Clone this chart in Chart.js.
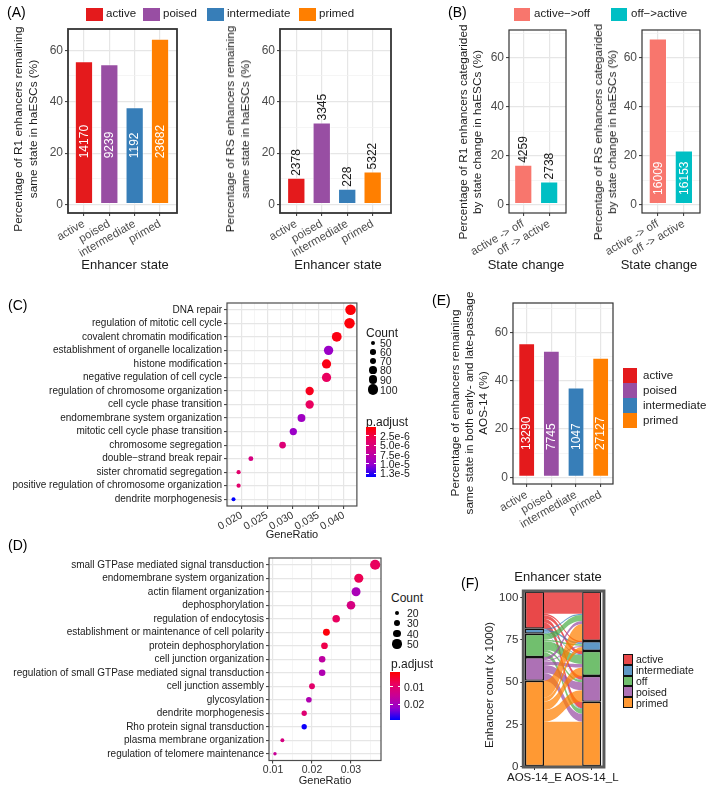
<!DOCTYPE html>
<html>
<head>
<meta charset="utf-8">
<title>Enhancer state figure</title>
<script src="https://cdn.jsdelivr.net/npm/chart.js@4.4.1/dist/chart.umd.min.js"></script>
<style>
  body { margin: 0; background: #fff; font-family: 'Liberation Sans', Arial, sans-serif; }
  #page { position: relative; width: 709px; height: 790px; overflow: hidden; }
  canvas { position: absolute; }
  .lbl { position: absolute; white-space: nowrap; line-height: 1; color: #1a1a1a; transform: translateY(-50%); }
  .ttl { position: absolute; white-space: nowrap; color: #1a1a1a; text-align: center; }
  .box { position: absolute; box-sizing: border-box; }
</style>
</head>
<body>
<div id="page"></div>
<script>
// ---------- data ----------
const stateCats = ['active', 'poised', 'intermediate', 'primed'];
const stateColors = ['#E41A1C', '#984EA3', '#377EB8', '#FF7F00'];

// (A) R1 / RS enhancers remaining same state
const r1Pct = [55.7, 54.6, 37.8, 64.5];
const r1Counts = ['14170', '9239', '1192', '23682'];
const rsPct = [10.4, 31.9, 6.2, 12.9];
const rsCounts = ['2378', '3345', '228', '5322'];

// (B) state change
const changeCats = ['active -> off', 'off -> active'];
const changeKeys = ['active\u2212>off', 'off\u2212>active'];
const changeColors = ['#F8766D', '#00BFC4'];
const r1ChangePct = [16.3, 9.5];
const r1ChangeCounts = ['4259', '2738'];
const rsChangePct = [67.9, 22.1];
const rsChangeCounts = ['16009', '16153'];

// (E) AOS-14 early vs late passage
const aosPct = [55.4, 52.4, 37.1, 49.5];
const aosCounts = ['13290', '7745', '1047', '27127'];

const pctTicks = [0, 20, 40, 60];

// (C) GO terms
const goTermsC = ['DNA repair', 'regulation of mitotic cell cycle', 'covalent chromatin modification',
  'establishment of organelle localization', 'histone modification', 'negative regulation of cell cycle',
  'regulation of chromosome organization', 'cell cycle phase transition', 'endomembrane system organization',
  'mitotic cell cycle phase transition', 'chromosome segregation', 'double\u2212strand break repair',
  'sister chromatid segregation', 'positive regulation of chromosome organization', 'dendrite morphogenesis'];
const goRatioC = [0.0413, 0.0411, 0.0386, 0.0370, 0.0366, 0.0366, 0.0333, 0.0333, 0.0317, 0.0301, 0.0280, 0.0218, 0.0194, 0.0194, 0.0184];
const goCountC = [105, 104, 98, 94, 93, 93, 85, 85, 81, 76, 71, 55, 49, 49, 47];
const goPadjC = [4e-7, 5e-7, 8e-7, 9.8e-6, 9e-7, 3.5e-6, 1.2e-6, 3.5e-6, 9.5e-6, 9.8e-6, 4.8e-6, 5.5e-6, 4.2e-6, 4.2e-6, 1.35e-5];
const ratioTicksC = [0.020, 0.025, 0.030, 0.035, 0.040];
const countKeyC = [50, 60, 70, 80, 90, 100];
const padjKeyC = [2.5e-6, 5.0e-6, 7.5e-6, 1.0e-5, 1.25e-5];
const padjKeyLabelsC = ['2.5e-6', '5.0e-6', '7.5e-6', '1.0e-5', '1.3e-5'];

// (D) GO terms
const goTermsD = ['small GTPase mediated signal transduction', 'endomembrane system organization',
  'actin filament organization', 'dephosphorylation', 'regulation of endocytosis',
  'establishment or maintenance of cell polarity', 'protein dephosphorylation', 'cell junction organization',
  'regulation of small GTPase mediated signal transduction', 'cell junction assembly', 'glycosylation',
  'dendrite morphogenesis', 'Rho protein signal transduction', 'plasma membrane organization',
  'regulation of telomere maintenance'];
const goRatioD = [0.0362, 0.0320, 0.0313, 0.0300, 0.0262, 0.0237, 0.0232, 0.0226, 0.0226, 0.0200, 0.0192, 0.0180, 0.0180, 0.0124, 0.0105];
const goCountD = [55, 49, 48, 46, 40, 36, 35, 34, 34, 30, 29, 27, 27, 19, 16];
const goPadjD = [0.0083, 0.0074, 0.0195, 0.0125, 0.0083, 0.0020, 0.0068, 0.0167, 0.0187, 0.0097, 0.0187, 0.0105, 0.0288, 0.0125, 0.0153];
const ratioTicksD = [0.01, 0.02, 0.03];
const countKeyD = [20, 30, 40, 50];
const padjKeyD = [0.01, 0.02];
const padjKeyLabelsD = ['0.01', '0.02'];

// (F) alluvial flows, AOS-14_E state -> AOS-14_L state (x 1000 enhancers)
const flowStates = ['active', 'intermediate', 'off', 'poised', 'primed'];
const flowColors = ['#E41A1C', '#377EB8', '#4DAF4A', '#984EA3', '#FF7F00'];
const fromActive = [13.2, 0.9, 2.0, 2.2, 3.7];
const fromIntermediate = [0.7, 1.0, 0.5, 0.3, 0.5];
const fromOff = [3.5, 1.0, 5.2, 1.2, 2.9];
const fromPoised = [1.9, 0.7, 2.1, 4.7, 4.7];
const fromPrimed = [10.0, 2.3, 5.0, 6.9, 26.6];
const passageCats = ['AOS-14_E', 'AOS-14_L'];
const countTicks = [0, 25, 50, 75, 100];

// ---------- helpers ----------
const FAMILY = "'Liberation Sans', Arial, sans-serif";
const page = document.getElementById('page');

function makeCanvas(area, yW, xH, padT, padR) {
  const [l, t, r, b] = area;
  const cv = document.createElement('canvas');
  const w = Math.round(yW + (r - l) + padR), h = Math.round(padT + (b - t) + xH);
  cv.width = w; cv.height = h;
  cv.style.left = (l - yW) + 'px';
  cv.style.top = (t - padT) + 'px';
  cv.style.width = w + 'px';
  cv.style.height = h + 'px';
  page.appendChild(cv);
  return cv;
}

function addText(text, x, y, size, extra) {
  const d = document.createElement('div');
  d.className = 'lbl';
  d.textContent = text;
  d.style.left = x + 'px';
  d.style.top = y + 'px';
  d.style.fontSize = size + 'px';
  Object.assign(d.style, extra || {});
  page.appendChild(d);
}

// axis title centred on (cx, cy); rotated titles read bottom to top
function addTitle(lines, cx, cy, size, rotated, lh) {
  const d = document.createElement('div');
  d.className = 'ttl';
  [].concat(lines).forEach(line => {
    const l = document.createElement('div');
    l.textContent = line;
    d.appendChild(l);
  });
  d.style.left = cx + 'px';
  d.style.top = cy + 'px';
  d.style.fontSize = size + 'px';
  d.style.lineHeight = (lh || size * 1.2) + 'px';
  d.style.transform = 'translate(-50%, -50%)' + (rotated ? ' rotate(-90deg)' : '');
  page.appendChild(d);
}

function addBox(x, y, w, h, style) {
  const d = document.createElement('div');
  d.className = 'box';
  Object.assign(d.style, { left: x + 'px', top: y + 'px', width: w + 'px', height: h + 'px' }, style);
  page.appendChild(d);
}

function rgba(hex, a) {
  const n = parseInt(hex.slice(1), 16);
  return `rgba(${n >> 16}, ${(n >> 8) & 255}, ${n & 255}, ${a})`;
}

const sum = arr => arr.reduce((s, v) => s + v, 0);

// major ticks plus the minor lines half way between them
function withMinor(major, min, max) {
  const half = (major[1] - major[0]) / 2;
  const out = [];
  for (let v = major[0] - half; v <= max + 1e-9; v += half) {
    if (v >= min - 1e-9) out.push(+v.toFixed(6));
  }
  return out;
}
const isMajor = (v, major) => major.some(m => Math.abs(m - v) < 1e-7);

function gridStyle(major) {
  return {
    offset: false,
    color: ctx => isMajor(ctx.tick.value, major) ? '#E6E6E6' : '#F1F1F1',
    lineWidth: ctx => isMajor(ctx.tick.value, major) ? 1.2 : 0.7,
    tickColor: ctx => isMajor(ctx.tick.value, major) ? '#333' : 'rgba(0,0,0,0)',
    tickWidth: 1,
    tickLength: 3
  };
}

// p.adjust colour ramp, red (low) to blue (high)
const padjStops = [[255, 0, 0], [233, 0, 95], [200, 0, 150], [150, 0, 205], [0, 0, 255]];
function padjColor(t) {
  t = Math.min(1, Math.max(0, t));
  const s = t * (padjStops.length - 1);
  const i = Math.min(Math.floor(s), padjStops.length - 2), f = s - i;
  const c = padjStops[i].map((v, k) => Math.round(v + (padjStops[i + 1][k] - v) * f));
  return `rgb(${c.join(',')})`;
}
const padjGradient = 'linear-gradient(to bottom, ' + padjStops.map(c => `rgb(${c.join(',')})`).join(', ') + ')';

// ---------- plugins ----------
function frame(color, width) {
  return {
    id: 'frame',
    afterDatasetsDraw(chart) {
      const { ctx, chartArea: a } = chart;
      ctx.save();
      ctx.strokeStyle = color;
      ctx.lineWidth = width;
      ctx.strokeRect(a.left, a.top, a.right - a.left, a.bottom - a.top);
      ctx.restore();
    }
  };
}

function barText(labels, inside, start) {
  return {
    id: 'barText',
    afterDatasetsDraw(chart) {
      const { ctx } = chart;
      const yScale = chart.scales.y;
      ctx.save();
      ctx.font = '12px ' + FAMILY;
      ctx.textAlign = 'left';
      ctx.textBaseline = 'middle';
      ctx.fillStyle = inside ? '#ffffff' : '#1a1a1a';
      chart.getDatasetMeta(0).data.forEach((bar, i) => {
        const y = inside ? yScale.getPixelForValue(start) : bar.y - 2;
        ctx.save();
        ctx.translate(bar.x, y);
        ctx.rotate(-Math.PI / 2);
        ctx.fillText(labels[i], 0, 0.5);
        ctx.restore();
      });
      ctx.restore();
    }
  };
}

// ---------- bar panels (A, B, E) ----------
function barPanel(o) {
  const cv = makeCanvas(o.area, o.yW, o.xH, o.padT, o.padR);
  new Chart(cv, {
    type: 'bar',
    data: {
      datasets: [{
        data: o.cats.map((c, i) => ({ x: i + 1, y: o.vals[i] })),
        backgroundColor: o.colors,
        borderColor: 'rgba(255,255,255,0.5)',
        borderWidth: 1,
        borderSkipped: false,
        barPercentage: 0.9,
        categoryPercentage: o.catPct
      }]
    },
    options: {
      responsive: false,
      animation: false,
      layout: { padding: { top: o.padT, right: o.padR, left: 0, bottom: 0 } },
      plugins: { legend: { display: false }, tooltip: { enabled: false } },
      scales: {
        x: {
          type: 'linear', min: o.xMin, max: o.xMax, offset: false,
          afterBuildTicks: s => { s.ticks = o.cats.map((c, i) => ({ value: i + 1 })); },
          afterFit: s => { s.height = o.xH; },
          grid: { offset: false, color: '#E6E6E6', lineWidth: 1.2, tickColor: '#333', tickWidth: 1, tickLength: 3 },
          border: { display: false },
          ticks: {
            autoSkip: false, minRotation: 30, maxRotation: 30, padding: 1,
            color: '#4D4D4D', font: { size: 11.5, family: FAMILY },
            callback: v => o.cats[v - 1]
          }
        },
        y: {
          min: o.yMin, max: o.yMax,
          afterBuildTicks: s => { s.ticks = withMinor(pctTicks, o.yMin, o.yMax).map(v => ({ value: v })); },
          afterFit: s => { s.width = o.yW; },
          grid: gridStyle(pctTicks),
          border: { display: false },
          ticks: {
            autoSkip: false, padding: 2, color: '#4D4D4D', font: { size: 12, family: FAMILY },
            callback: v => isMajor(v, pctTicks) ? String(v) : ''
          }
        }
      }
    },
    plugins: [frame('#333', o.frameW), barText(o.labels, o.inside, o.start)]
  });
  addTitle(o.yTitle, o.yTitleAt[0], o.yTitleAt[1], 11.8, true, o.yLH);
  addTitle(o.xTitle, o.xTitleAt[0], o.xTitleAt[1], 13, false);
}

barPanel({
  area: [68, 29, 177, 213], yW: 68, xH: 62, padT: 12, padR: 8,
  cats: stateCats, vals: r1Pct, colors: stateColors, labels: r1Counts, inside: true, start: 18,
  xMin: 0.37, xMax: 4.67, yMin: -3.25, yMax: 68.25, catPct: 0.8,
  yTitle: ['Percentage of R1 enhancers remaining', 'same state in haESCs (%)'], yLH: 15, yTitleAt: [25.8, 129],
  xTitle: 'Enhancer state', xTitleAt: [125, 265], frameW: 1.8
});

barPanel({
  area: [280, 29, 391, 213], yW: 72, xH: 62, padT: 12, padR: 8,
  cats: stateCats, vals: rsPct, colors: stateColors, labels: rsCounts, inside: false,
  xMin: 0.36, xMax: 4.72, yMin: -3.25, yMax: 68.25, catPct: 0.8,
  yTitle: ['Percentage of RS enhancers remaining', 'same state in haESCs (%)'], yLH: 15, yTitleAt: [237.5, 129],
  xTitle: 'Enhancer state', xTitleAt: [338, 265], frameW: 1.8
});

barPanel({
  area: [509, 30, 566, 213], yW: 64, xH: 62, padT: 12, padR: 8,
  cats: changeCats, vals: r1ChangePct, colors: changeColors, labels: r1ChangeCounts, inside: false,
  xMin: 0.45, xMax: 2.65, yMin: -3.4, yMax: 71.4, catPct: 0.78,
  yTitle: ['Percentage of R1 enhancers categarided', 'by state change in haESCs (%)'], yLH: 14, yTitleAt: [470.3, 132],
  xTitle: 'State change', xTitleAt: [526, 265], frameW: 1.2
});

barPanel({
  area: [642, 30, 700, 213], yW: 60, xH: 62, padT: 12, padR: 8,
  cats: changeCats, vals: rsChangePct, colors: changeColors, labels: rsChangeCounts, inside: true, start: 4,
  xMin: 0.39, xMax: 2.62, yMin: -3.4, yMax: 71.4, catPct: 0.78,
  yTitle: ['Percentage of RS enhancers categarided', 'by state change in haESCs (%)'], yLH: 14, yTitleAt: [605, 132],
  xTitle: 'State change', xTitleAt: [659, 265], frameW: 1.2
});

barPanel({
  area: [513, 303, 613, 484], yW: 73, xH: 103, padT: 12, padR: 6,
  cats: stateCats, vals: aosPct, colors: stateColors, labels: aosCounts, inside: true, start: 11.3,
  xMin: 0.445, xMax: 4.5, yMin: -2.77, yMax: 72.1, catPct: 0.755,
  yTitle: ['Percentage of enhancers remaining', 'same state in both early- and late-passage', 'AOS-14 (%)'], yLH: 14, yTitleAt: [469, 403],
  xTitle: 'Enhancer state', xTitleAt: [558, 577], frameW: 1.2
});

// ---------- dot panels (C, D) ----------
function dotPanel(o) {
  const cv = makeCanvas(o.area, o.yW, o.xH, o.padT, o.padR);
  new Chart(cv, {
    type: 'bubble',
    data: {
      datasets: [{
        data: o.terms.map((t, i) => ({ x: o.ratio[i], y: t, r: o.size(o.count[i]) })),
        backgroundColor: o.padj.map(p => padjColor((p - o.pMin) / (o.pMax - o.pMin))),
        borderWidth: 0,
        hoverRadius: 0
      }]
    },
    options: {
      responsive: false,
      animation: false,
      layout: { padding: { top: o.padT, right: o.padR, left: 0, bottom: 0 } },
      plugins: { legend: { display: false }, tooltip: { enabled: false } },
      scales: {
        x: {
          type: 'linear', min: o.xMin, max: o.xMax,
          afterBuildTicks: s => { s.ticks = withMinor(o.ticks, o.xMin, o.xMax).map(v => ({ value: v })); },
          afterFit: s => { s.height = o.xH; },
          grid: gridStyle(o.ticks),
          border: { display: false },
          ticks: {
            autoSkip: false, minRotation: o.rot, maxRotation: o.rot, padding: 0,
            color: '#333', font: { size: 10.5, family: FAMILY },
            callback: v => isMajor(v, o.ticks) ? v.toFixed(o.digits) : ''
          },
          title: { display: true, text: 'GeneRatio', color: '#1a1a1a', font: { size: 11, family: FAMILY, lineHeight: 1.15 }, padding: { top: 0, bottom: o.titlePad } }
        },
        y: {
          type: 'category', labels: o.terms, offset: true,
          afterFit: s => { s.width = o.yW; },
          grid: { offset: false, color: '#E6E6E6', lineWidth: 1.2, tickColor: '#333', tickWidth: 1, tickLength: 3 },
          border: { display: false },
          ticks: { autoSkip: false, padding: 2, color: '#1a1a1a', font: { size: 10, family: FAMILY } }
        }
      }
    },
    plugins: [frame('#4d4d4d', 1.2)]
  });
}

const sizeC = c => 2 + (c - 47) * (3.3 / 58);
const sizeD = c => 1.7 + (c - 16) * (3.4 / 39);
const pRangeC = [1.5e-7, 1.35e-5];
const pRangeD = [0.0012, 0.0294];

dotPanel({
  area: [227, 303, 357, 505.5], yW: 227, xH: 35, padT: 12, padR: 6,
  terms: goTermsC, ratio: goRatioC, count: goCountC, padj: goPadjC, size: sizeC,
  pMin: pRangeC[0], pMax: pRangeC[1], xMin: 0.01713, xMax: 0.04254, ticks: ratioTicksC,
  rot: 30, digits: 3, titlePad: 0
});

dotPanel({
  area: [269, 558, 381, 760.5], yW: 269, xH: 29.5, padT: 10, padR: 6,
  terms: goTermsD, ratio: goRatioD, count: goCountD, padj: goPadjD, size: sizeD,
  pMin: pRangeD[0], pMax: pRangeD[1], xMin: 0.00897, xMax: 0.0377, ticks: ratioTicksD,
  rot: 0, digits: 2, titlePad: 3
});

// ---------- alluvial panel (F) ----------
const flowMatrix = [fromActive, fromIntermediate, fromOff, fromPoised, fromPrimed];
const earlyTotals = flowMatrix.map(sum);
const lateTotals = flowStates.map((s, j) => sum(flowMatrix.map(row => row[j])));
const flowTotal = sum(earlyTotals);
const stratumWidth = 1 / 3;

const alluvium = {
  id: 'alluvium',
  beforeDatasetsDraw(chart) {
    const { ctx, scales: { x, y } } = chart;
    const x0 = x.getPixelForValue(1 + stratumWidth / 2);
    const x1 = x.getPixelForValue(2 - stratumWidth / 2);
    const xm = (x0 + x1) / 2;
    ctx.save();
    flowMatrix.forEach((row, i) => {
      row.forEach((f, j) => {
        const eTop = flowTotal - sum(earlyTotals.slice(0, i)) - sum(row.slice(0, j));
        const lTop = flowTotal - sum(lateTotals.slice(0, j)) - sum(flowMatrix.slice(0, i).map(r => r[j]));
        const ya = y.getPixelForValue(eTop), yb = y.getPixelForValue(lTop);
        const yc = y.getPixelForValue(lTop - f), yd = y.getPixelForValue(eTop - f);
        ctx.beginPath();
        ctx.moveTo(x0, ya);
        ctx.bezierCurveTo(xm, ya, xm, yb, x1, yb);
        ctx.lineTo(x1, yc);
        ctx.bezierCurveTo(xm, yc, xm, yd, x0, yd);
        ctx.closePath();
        ctx.fillStyle = rgba(flowColors[i], 0.72);
        ctx.fill();
      });
    });
    ctx.restore();
  }
};

(function () {
  const area = [523.3, 590.7, 616.7, 767], yW = 47.3, xH = 23, padT = 10, padR = 3;
  const cv = makeCanvas(area, yW, xH, padT, padR);
  // stacked bottom-up: primed, poised, off, intermediate, active
  const order = flowStates.map((s, k) => k).reverse();
  new Chart(cv, {
    type: 'bar',
    data: {
      datasets: order.map(k => ({
        label: flowStates[k],
        data: [{ x: 1, y: earlyTotals[k] }, { x: 2, y: lateTotals[k] }],
        backgroundColor: rgba(flowColors[k], 0.8),
        borderColor: '#111',
        borderWidth: 1.4,
        borderSkipped: false,
        barPercentage: 1,
        categoryPercentage: stratumWidth
      }))
    },
    options: {
      responsive: false,
      animation: false,
      layout: { padding: { top: padT, right: padR, left: 0, bottom: 0 } },
      plugins: { legend: { display: false }, tooltip: { enabled: false } },
      scales: {
        x: {
          type: 'linear', min: 0.805, max: 2.214, stacked: true, offset: false,
          afterBuildTicks: s => { s.ticks = passageCats.map((c, i) => ({ value: i + 1 })); },
          afterFit: s => { s.height = xH; },
          grid: { offset: false, drawOnChartArea: false, tickColor: '#333', tickLength: 3 },
          border: { display: false },
          ticks: { autoSkip: false, maxRotation: 0, minRotation: 0, padding: 1, color: '#1a1a1a', font: { size: 11.5, family: FAMILY }, callback: v => passageCats[v - 1] }
        },
        y: {
          stacked: true, min: -0.2, max: 104,
          afterBuildTicks: s => { s.ticks = countTicks.map(v => ({ value: v })); },
          afterFit: s => { s.width = yW; },
          grid: { drawOnChartArea: false, tickColor: '#333', tickLength: 3 },
          border: { display: false },
          ticks: { autoSkip: false, padding: 2, color: '#333', font: { size: 11.5, family: FAMILY } }
        }
      }
    },
    plugins: [alluvium, frame('#5a5a5a', 3)]
  });
  addTitle('Enhancer count (x 1000)', 490, 685, 11.5, true);
})();

// ---------- panel letters ----------
[['(A)', 7, 12], ['(B)', 448, 12], ['(C)', 8, 305], ['(D)', 8, 545], ['(E)', 432, 300], ['(F)', 461, 583]]
  .forEach(([t, x, y]) => addText(t, x, y, 14, { color: '#000' }));

// ---------- legends ----------
// (A)
const keyAx = [86, 143, 207, 299];
stateCats.forEach((c, i) => {
  addBox(keyAx[i], 7.5, 17, 13.5, { background: stateColors[i] });
  addText(c, keyAx[i] + 20, 14, 11.5);
});
// (B)
const keyBx = [514, 611];
changeKeys.forEach((c, i) => {
  addBox(keyBx[i], 8, 15.5, 12.5, { background: changeColors[i] });
  addText(c, keyBx[i] + 20, 14, 11.5);
});
// (E)
stateCats.forEach((c, i) => {
  addBox(623, 368 + i * 15, 14, 15, { background: stateColors[i] });
  addText(c, 643, 375.5 + i * 15, 11.5);
});
// (F)
flowStates.forEach((c, i) => {
  addBox(622.7, 654 + i * 10.8, 10.8, 10.8, { background: rgba(flowColors[i], 0.8), border: '1.5px solid #111' });
  addText(c, 636, 659.4 + i * 10.8, 10.5);
});

// (C) and (D) size / colour keys
function dotLegend(o) {
  addText('Count', o.x, o.countY, 12);
  o.counts.forEach((c, i) => {
    const r = o.size(c);
    addBox(o.cx - r, o.rows[i] - r, 2 * r, 2 * r, { background: '#000', borderRadius: '50%' });
    addText(String(c), o.tx, o.rows[i], 10.5);
  });
  addText('p.adjust', o.x, o.padjY, 12);
  addBox(o.barX, o.barTop, 10, o.barH, { background: padjGradient });
  o.padjKeys.forEach((p, i) => {
    const y = o.barTop + (p - o.pRange[0]) / (o.pRange[1] - o.pRange[0]) * o.barH;
    addBox(o.barX, y - 0.5, 2.5, 1, { background: '#fff' });
    addBox(o.barX + 7.5, y - 0.5, 2.5, 1, { background: '#fff' });
    addText(o.padjLabels[i], o.barX + 14, y, 10.5);
  });
}
dotLegend({
  x: 366, countY: 333, counts: countKeyC, size: sizeC, cx: 373, tx: 380,
  rows: [343, 352, 361, 370, 379.5, 389.5],
  padjY: 422, barX: 366, barTop: 427, barH: 50,
  padjKeys: padjKeyC, padjLabels: padjKeyLabelsC, pRange: pRangeC
});
dotLegend({
  x: 391, countY: 598, counts: countKeyD, size: sizeD, cx: 397, tx: 407,
  rows: [613, 623, 633.5, 644],
  padjY: 664, barX: 390, barTop: 672, barH: 48,
  padjKeys: padjKeyD, padjLabels: padjKeyLabelsD, pRange: pRangeD
});
</script>
</body>
</html>
